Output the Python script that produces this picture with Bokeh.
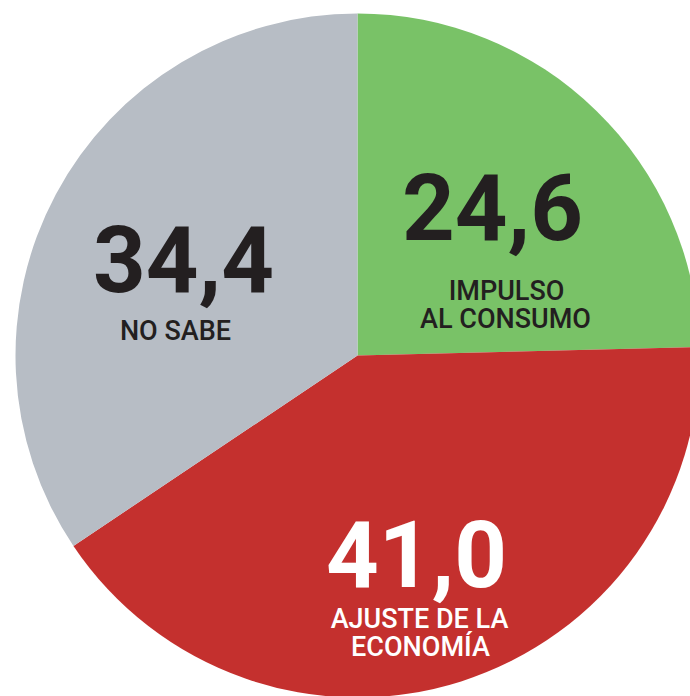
from bokeh.plotting import figure
from bokeh.models import Range1d, ColumnDataSource
from bokeh.core.properties import value
from bokeh.embed import file_html
from bokeh.resources import INLINE
import math

# ---- data ----
categories = ["IMPULSO AL CONSUMO", "AJUSTE DE LA ECONOMÍA", "NO SABE"]
values = [24.6, 41.0, 34.4]
value_labels = ["24,6", "41,0", "34,4"]
label_lines = [["IMPULSO", "AL CONSUMO"], ["AJUSTE DE LA", "ECONOMÍA"], ["NO SABE"]]
colors = ["#79C267", "#C4302E", "#B7BDC5"]
text_colors = ["#231F20", "#FFFFFF", "#231F20"]

# ---- layout ----
W, H = 690, 696
cx, cy, R = 357, -355, 342
FONT = "Roboto"
LABEL_FONT = "Roboto Medium, Roboto"
# anchor positions (empirically corrected for renderer baseline offset)
value_pos = [(492, -206), (416, -553), (183, -258)]
line_pos = [[(506, -290), (505, -318)], [(419, -618), (420, -646)], [(175, -330)]]

total = sum(values)
starts, ends = [], []
acc = 0.0
for v in values:
    a0 = math.pi / 2 - 2 * math.pi * acc / total
    acc += v
    a1 = math.pi / 2 - 2 * math.pi * acc / total
    starts.append(a0)
    ends.append(a1)

p = figure(width=W, height=H, output_backend="svg", toolbar_location=None,
           x_range=Range1d(0, W), y_range=Range1d(-H, 0),
           min_border=0)
p.axis.visible = False
p.grid.visible = False
p.outline_line_color = None
p.background_fill_color = "white"
p.border_fill_color = "white"

src = ColumnDataSource(dict(x=[cx] * 3, y=[cy] * 3, start=starts, end=ends,
                            color=colors, cat=categories))
p.wedge(x="x", y="y", radius=R, start_angle="start", end_angle="end",
        direction="clock", fill_color="color", line_color=None, source=src)

for i in range(3):
    p.text(x=[value_pos[i][0]], y=[value_pos[i][1]], text=[value_labels[i]],
           text_font=value(FONT), text_font_style="bold", text_font_size="92px",
           text_color=text_colors[i], text_align="center", text_baseline="alphabetic")
    for j, line in enumerate(label_lines[i]):
        p.text(x=[line_pos[i][j][0]], y=[line_pos[i][j][1]], text=[line],
               text_font=value(LABEL_FONT), text_font_style="normal", text_font_size="27px",
               text_color=text_colors[i], text_align="center", text_baseline="alphabetic")

open("out.html", "w").write(file_html(p, INLINE))
